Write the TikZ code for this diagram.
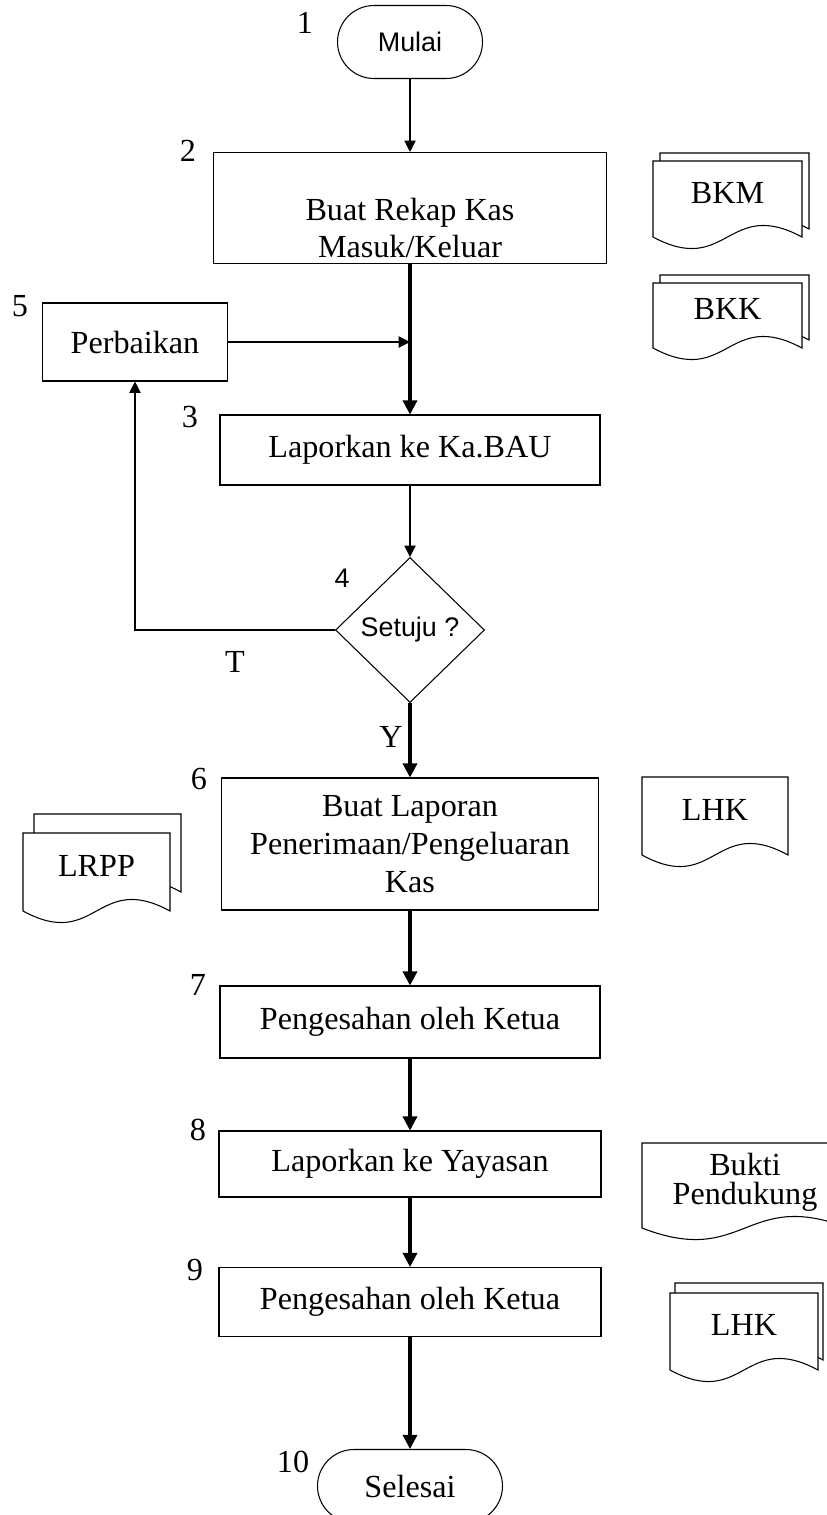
\documentclass[tikz,border=0pt]{standalone}
\usepackage{fontspec}
\setmainfont{Liberation Serif}
\newfontfamily\arialfont{Liberation Sans}
\usetikzlibrary{shapes.geometric,arrows.meta,backgrounds}
% lembar dokumen: node, geser x, geser y
\newcommand{\lembar}[3]{%
  \draw[fill=white,line width=0.6pt] ([shift={(#2,#3)}]#1.north west) -- ([shift={(#2,#3)}]#1.north east)
    -- ([shift={(#2,#3)}]#1.south east)
    .. controls ([shift={(#2,#3+0.8)}]#1.south) and ([shift={(#2,#3-0.8)}]#1.south)
    .. ([shift={(#2,#3)}]#1.south west) -- cycle;}

\begin{document}
\begin{tikzpicture}[
    >={Triangle[length=6.5pt,width=6.5pt]},
    font=\fontsize{18.3}{21.5}\selectfont,
    proses/.style={draw, line width=0.6pt, align=center, inner sep=0pt},
    terminal/.style={draw, line width=0.6pt, rounded corners=0.73cm, minimum height=1.46cm},
    keputusan/.style={draw, diamond, line width=0.6pt, inner sep=0pt, minimum width=2.98cm, minimum height=2.9cm},
    dok/.style={inner sep=0pt, outer sep=0pt, text depth=0.25cm},
    sans/.style={font=\arialfont\fontsize{15.3}{17}\selectfont},
    tipis/.style={->, line width=0.6pt},
    tebal/.style={-{Triangle[length=8pt,width=8pt]}, line width=1.8pt},
    nomor/.style={inner sep=0pt}
  ]
  \useasboundingbox (0,0) rectangle (16.54,-30.3);
  \clip (0,0) rectangle (16.54,-30.3);

  \node [terminal, sans, minimum width=2.9cm] (1) at (8.2,-0.84) {Mulai};
  \node [proses, below of=1, yshift=-2.32cm, minimum width=7.86cm, minimum height=2.22cm] (2) {\rule{0pt}{1.25cm}Buat Rekap Kas\\Masuk/Keluar};
  \node [proses, below of=2, yshift=-3.84cm, minimum width=7.6cm, minimum height=1.4cm] (3) {Laporkan ke Ka.BAU};
  \node [keputusan, sans, below of=3, yshift=-2.6cm] (4) {Setuju ?};
  \node [proses, left of=3, xshift=-4.5cm, yshift=2.16cm, minimum width=3.7cm, minimum height=1.56cm] (5) {Perbaikan};
  \node [proses, below of=4, yshift=-3.28cm, minimum width=7.54cm, minimum height=2.64cm] (6) {Buat Laporan\\Penerimaan/Pengeluaran\\Kas};
  \node [proses, below of=6, yshift=-2.56cm, minimum width=7.6cm, minimum height=1.44cm] (7) {Pengesahan oleh Ketua};
  \node [proses, below of=7, yshift=-1.84cm, minimum width=7.64cm, minimum height=1.32cm] (8) {Laporkan ke Yayasan};
  \node [proses, below of=8, yshift=-1.76cm, minimum width=7.64cm, minimum height=1.38cm] (9) {Pengesahan oleh Ketua};
  \node [terminal, below of=9, yshift=-2.68cm, minimum width=3.7cm] (10) {Selesai};

  \node [nomor] (n1) at (6.1,-0.46) {1};
  \node [nomor] (n2) at (3.76,-3.02) {2};
  \node [nomor] (n3) at (3.8,-8.34) {3};
  \node [nomor, sans] (n4) at (6.84,-11.56) {4};
  \node [nomor] (n5) at (0.4,-6.12) {5};
  \node [nomor] (n6) at (3.98,-15.58) {6};
  \node [nomor] (n7) at (3.96,-19.7) {7};
  \node [nomor] (n8) at (3.96,-22.6) {8};
  \node [nomor] (n9) at (3.9,-25.4) {9};
  \node [nomor] (n10) at (5.86,-29.24) {10};

  \node [dok, minimum width=2.98cm, minimum height=1.52cm] (bkm) at (14.55,-3.98) {BKM};
  \node [dok, minimum width=2.98cm, minimum height=1.3cm] (bkk) at (14.55,-6.31) {BKK};
  \node [dok, minimum width=2.92cm, minimum height=1.56cm] (lhk) at (14.3,-16.32) {LHK};
  \node [dok, minimum width=2.94cm, minimum height=1.56cm] (lrpp) at (1.93,-17.44) {LRPP};
  \node [dok, minimum width=4.12cm, minimum height=1.7cm, align=center, font=\fontsize{18.3}{16.5}\selectfont] (bukti) at (14.9,-23.71) {Bukti\\Pendukung};
  \node [dok, minimum width=2.96cm, minimum height=1.54cm] (lhk2) at (14.88,-26.63) {LHK};

  \begin{pgfonlayer}{background}
    \lembar{bkm}{0.14}{0.16} \lembar{bkm}{0}{0}
    \lembar{bkk}{0.14}{0.16} \lembar{bkk}{0}{0}
    \lembar{lhk}{0}{0}
    \lembar{lrpp}{0.22}{0.38} \lembar{lrpp}{0}{0}
    \lembar{bukti}{0}{0}
    \lembar{lhk2}{0.1}{0.2} \lembar{lhk2}{0}{0}
  \end{pgfonlayer}

  \draw[tipis] (1) -- (2);
  \draw[tebal] (2) -- (3);
  \draw[tipis] (5) -- (5 -| 3);
  \draw[tipis] (3) -- (4);
  \draw[tipis] (4) -| node[pos=0.25, below, yshift=-0.3cm] (t) {T} (5);
  \draw[tebal] (4) -- node[pos=0.45, left] (y) {Y} (6);
  \draw[tebal] (6) -- (7);
  \draw[tebal] (7) -- (8);
  \draw[tebal] (8) -- (9);
  \draw[tebal] (9) -- (10);
\end{tikzpicture}
\end{document}
